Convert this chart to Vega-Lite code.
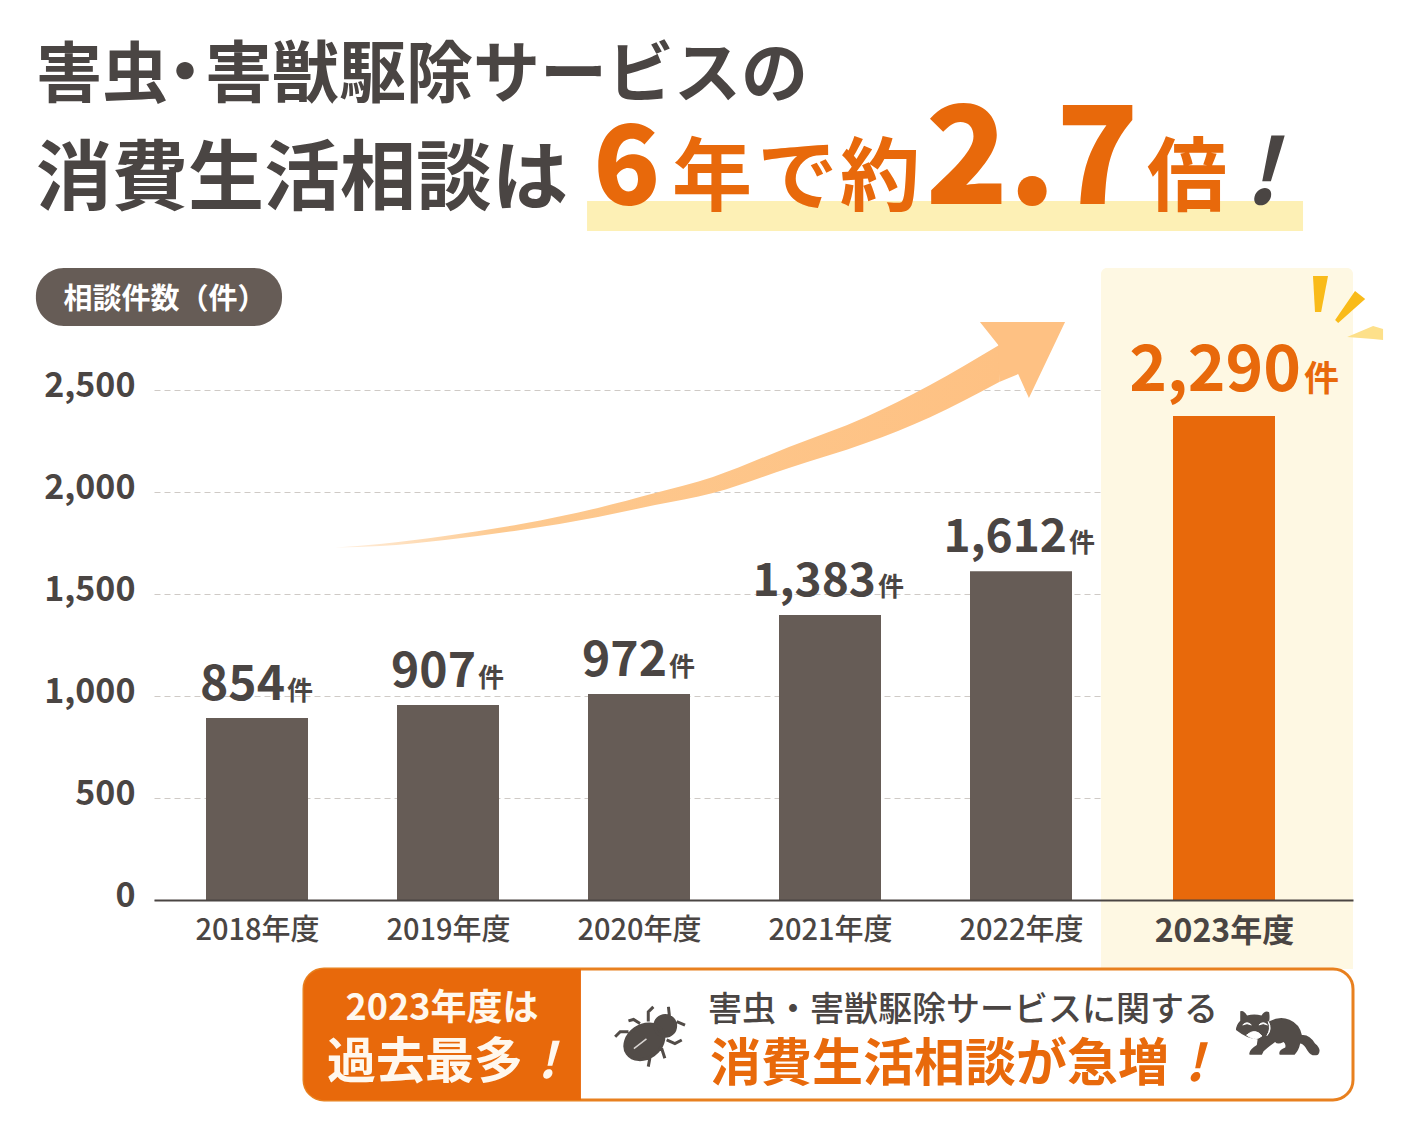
{
  "$schema": "https://vega.github.io/schema/vega-lite/v6.json",
  "width": 1402,
  "height": 1122,
  "autosize": "none",
  "padding": 0,
  "background": "white",
  "config": {"view": {"stroke": null}, "font": "Noto Sans CJK JP"},
  "data": {"values": [
    {"year": 2018, "count": 854, "bar_height": 892},
    {"year": 2019, "count": 907, "bar_height": 956},
    {"year": 2020, "count": 972, "bar_height": 1010},
    {"year": 2021, "count": 1383, "bar_height": 1397},
    {"year": 2022, "count": 1612, "bar_height": 1612},
    {"year": 2023, "count": 2290, "bar_height": 2372}
  ]},
  "layer": [
    {
      "data": {"values": [{}]},
      "mark": {"type": "rect", "color": "#fef8e3", "cornerRadiusTopRight": 6, "cornerRadiusTopLeft": 6},
      "encoding": {
        "x": {
          "datum": 2022.394,
          "type": "quantitative",
          "title": null,
          "scale": {"domain": [2017.461, 2018, 2022, 2023, 2023.635], "range": [154, 257, 1021, 1224, 1353], "nice": false, "zero": false, "padding": 0},
          "axis": {
            "offset": -222,
            "zindex": 1,
            "values": [2018, 2019, 2020, 2021, 2022, 2023],
            "labelExpr": "datum.value + '年度'",
            "labelFontSize": {"expr": "datum.value == 2023 ? 32 : 29"},
            "labelFontWeight": {"expr": "datum.value == 2023 ? 700 : 500"},
            "labelColor": "#4a4543",
            "labelPadding": 16,
            "labelOverlap": false,
            "labelFlush": false,
            "labelBound": false,
            "ticks": false,
            "grid": false,
            "domainColor": "#4a4543",
            "domainWidth": 2
          }
        },
        "x2": {"datum": 2023.635},
        "y": {
          "datum": 3098,
          "type": "quantitative",
          "title": null,
          "scale": {"domain": [0, 2500], "range": [900, 390], "nice": false},
          "axis": {
            "offset": -154,
            "values": [0, 500, 1000, 1500, 2000, 2500],
            "labelExpr": "format(datum.value, ',')",
            "labelFontSize": 34,
            "labelFontWeight": 700,
            "labelColor": "#4a4543",
            "labelPadding": 19,
            "labelOffset": -4,
            "ticks": false,
            "domain": false,
            "grid": true,
            "gridColor": "#cfcac6",
            "gridDash": [6, 4],
            "gridWidth": 1
          }
        },
        "y2": {"datum": -338}
      }
    },
    {
      "mark": {"type": "bar", "orient": "vertical", "width": 102},
      "encoding": {
        "x": {"field": "year", "type": "quantitative", "title": null},
        "y": {"field": "bar_height", "type": "quantitative", "title": null},
        "color": {"condition": {"test": "datum.year == 2023", "value": "#e8690b"}, "value": "#665c56"}
      }
    },
    {
      "data": {"values": [
        {"x": 2018.408, "top": 1728, "bottom": 1728},
        {"x": 2018.644, "top": 1745, "bottom": 1735},
        {"x": 2018.984, "top": 1784, "bottom": 1765},
        {"x": 2019.382, "top": 1843, "bottom": 1814},
        {"x": 2019.785, "top": 1922, "bottom": 1878},
        {"x": 2020.084, "top": 1995, "bottom": 1936},
        {"x": 2020.387, "top": 2074, "bottom": 1995},
        {"x": 2020.785, "top": 2221, "bottom": 2118},
        {"x": 2021.188, "top": 2368, "bottom": 2240},
        {"x": 2021.524, "top": 2525, "bottom": 2367},
        {"x": 2021.886, "top": 2721, "bottom": 2539}
      ]},
      "mark": {"type": "area", "interpolate": "monotone", "color": {"gradient": "linear", "x1": 0, "x2": 1, "y1": 0, "y2": 0, "stops": [{"offset": 0, "color": "#fff0e0"}, {"offset": 0.25, "color": "#fdc98f"}, {"offset": 1, "color": "#fec183"}]}},
      "encoding": {"x": {"field": "x", "type": "quantitative", "title": null}, "y": {"field": "top", "type": "quantitative", "title": null}, "y2": {"field": "bottom", "title": null}}
    },
    {
      "data": {"values": [
        {"x": 2021.785, "top": 2833, "bottom": 2833},
        {"x": 2021.881, "top": 2833, "bottom": 2721},
        {"x": 2021.886, "top": 2833, "bottom": 2539},
        {"x": 2021.985, "top": 2833, "bottom": 2578},
        {"x": 2022.039, "top": 2833, "bottom": 2461},
        {"x": 2022.217, "top": 2833, "bottom": 2833}
      ]},
      "mark": {"type": "area", "color": "#fec183"},
      "encoding": {"x": {"field": "x", "type": "quantitative", "title": null}, "y": {"field": "top", "type": "quantitative", "title": null}, "y2": {"field": "bottom", "title": null}}
    },
    {
      "data": {"values": [
        {"x": 2023.438, "top": 3059, "bottom": 3059},
        {"x": 2023.448, "top": 3059, "bottom": 2882},
        {"x": 2023.478, "top": 3059, "bottom": 2882},
        {"x": 2023.512, "top": 3059, "bottom": 3059}
      ]},
      "mark": {"type": "area", "color": "#f9bb1a"},
      "encoding": {"x": {"field": "x", "type": "quantitative", "title": null}, "y": {"field": "top", "type": "quantitative", "title": null}, "y2": {"field": "bottom", "title": null}}
    },
    {
      "data": {"values": [
        {"x": 2023.547, "top": 2843, "bottom": 2843},
        {"x": 2023.562, "top": 2865, "bottom": 2828},
        {"x": 2023.645, "top": 2985, "bottom": 2902},
        {"x": 2023.695, "top": 2946, "bottom": 2946}
      ]},
      "mark": {"type": "area", "color": "#f9bb1a"},
      "encoding": {"x": {"field": "x", "type": "quantitative", "title": null}, "y": {"field": "top", "type": "quantitative", "title": null}, "y2": {"field": "bottom", "title": null}}
    },
    {
      "data": {"values": [
        {"x": 2023.606, "top": 2760, "bottom": 2760},
        {"x": 2023.734, "top": 2814, "bottom": 2750},
        {"x": 2023.783, "top": 2799, "bottom": 2745}
      ]},
      "mark": {"type": "area", "color": "#fde08a"},
      "encoding": {"x": {"field": "x", "type": "quantitative", "title": null}, "y": {"field": "top", "type": "quantitative", "title": null}, "y2": {"field": "bottom", "title": null}}
    },
    {
      "transform": [{"filter": "datum.count < 1000"}],
      "mark": {"type": "text", "align": "right", "baseline": "alphabetic", "dx": 28, "dy": -18, "fontSize": 48, "fontWeight": 700, "color": "#4a4543"},
      "encoding": {"x": {"field": "year", "type": "quantitative", "title": null}, "y": {"field": "bar_height", "type": "quantitative", "title": null}, "text": {"field": "count", "format": ","}}
    },
    {
      "transform": [{"filter": "datum.count < 1000"}],
      "mark": {"type": "text", "align": "left", "baseline": "alphabetic", "dx": 30, "dy": -18, "fontSize": 26, "fontWeight": 700, "color": "#4a4543", "text": "件"},
      "encoding": {"x": {"field": "year", "type": "quantitative", "title": null}, "y": {"field": "bar_height", "type": "quantitative", "title": null}}
    },
    {
      "transform": [{"filter": "datum.count >= 1000 && datum.count < 2000"}],
      "mark": {"type": "text", "align": "right", "baseline": "alphabetic", "dx": 46, "dy": -19, "fontSize": 46, "fontWeight": 700, "color": "#4a4543"},
      "encoding": {"x": {"field": "year", "type": "quantitative", "title": null}, "y": {"field": "bar_height", "type": "quantitative", "title": null}, "text": {"field": "count", "format": ","}}
    },
    {
      "transform": [{"filter": "datum.count >= 1000 && datum.count < 2000"}],
      "mark": {"type": "text", "align": "left", "baseline": "alphabetic", "dx": 48, "dy": -19, "fontSize": 26, "fontWeight": 700, "color": "#4a4543", "text": "件"},
      "encoding": {"x": {"field": "year", "type": "quantitative", "title": null}, "y": {"field": "bar_height", "type": "quantitative", "title": null}}
    },
    {
      "transform": [{"filter": "datum.count >= 2000"}],
      "mark": {"type": "text", "align": "right", "baseline": "alphabetic", "dx": 77, "dy": -25, "fontSize": 64, "fontWeight": 700, "color": "#e8690b"},
      "encoding": {"x": {"field": "year", "type": "quantitative", "title": null}, "y": {"field": "bar_height", "type": "quantitative", "title": null}, "text": {"field": "count", "format": ","}}
    },
    {
      "transform": [{"filter": "datum.count >= 2000"}],
      "mark": {"type": "text", "align": "left", "baseline": "alphabetic", "dx": 80, "dy": -25, "fontSize": 35, "fontWeight": 700, "color": "#e8690b", "text": "件"},
      "encoding": {"x": {"field": "year", "type": "quantitative", "title": null}, "y": {"field": "bar_height", "type": "quantitative", "title": null}}
    },
    {
      "data": {"values": [{}]},
      "mark": {"type": "rect", "color": "#fdf0b5"},
      "encoding": {"x": {"datum": 2019.728, "type": "quantitative"}, "x2": {"datum": 2023.389}, "y": {"datum": 3426, "type": "quantitative"}, "y2": {"datum": 3279}}
    },
    {
      "data": {"values": [{}]},
      "mark": {"type": "rect", "color": "#665c56", "cornerRadius": 28},
      "encoding": {"x": {"datum": 2016.843, "type": "quantitative"}, "x2": {"datum": 2018.131}, "y": {"datum": 3098, "type": "quantitative"}, "y2": {"datum": 2814}}
    },
    {
      "data": {"values": [{"text": "相談件数（件）"}]},
      "mark": {"type": "text", "align": "center", "baseline": "alphabetic", "fontSize": 29, "fontWeight": 700, "color": "white"},
      "encoding": {"x": {"datum": 2017.518, "type": "quantitative"}, "y": {"datum": 2897, "type": "quantitative"}, "text": {"field": "text"}}
    },
    {
      "data": {"values": [{"text": "害虫"}]},
      "mark": {"type": "text", "align": "left", "baseline": "alphabetic", "fontSize": 66, "fontWeight": 700, "color": "#4a4543"},
      "encoding": {"x": {"datum": 2016.843, "type": "quantitative"}, "y": {"datum": 3936, "type": "quantitative"}, "text": {"field": "text"}}
    },
    {
      "data": {"values": [{"text": "・"}]},
      "mark": {"type": "text", "align": "center", "baseline": "alphabetic", "fontSize": 62, "fontWeight": 900, "color": "#4a4543"},
      "encoding": {"x": {"datum": 2017.623, "type": "quantitative"}, "y": {"datum": 3946, "type": "quantitative"}, "text": {"field": "text"}}
    },
    {
      "data": {"values": [{"text": "害獣駆除サービスの"}]},
      "mark": {"type": "text", "align": "left", "baseline": "alphabetic", "fontSize": 67, "fontWeight": 700, "color": "#4a4543"},
      "encoding": {"x": {"datum": 2017.728, "type": "quantitative"}, "y": {"datum": 3936, "type": "quantitative"}, "text": {"field": "text"}}
    },
    {
      "data": {"values": [{"text": "消費生活相談は"}]},
      "mark": {"type": "text", "align": "left", "baseline": "alphabetic", "fontSize": 76, "fontWeight": 700, "color": "#4a4543"},
      "encoding": {"x": {"datum": 2016.843, "type": "quantitative"}, "y": {"datum": 3412, "type": "quantitative"}, "text": {"field": "text"}}
    },
    {
      "data": {"values": [{"text": "6"}]},
      "mark": {"type": "text", "align": "left", "baseline": "alphabetic", "fontSize": 110, "fontWeight": 900, "color": "#e8690b"},
      "encoding": {"x": {"datum": 2019.76, "type": "quantitative"}, "y": {"datum": 3412, "type": "quantitative"}, "text": {"field": "text"}}
    },
    {
      "data": {"values": [{"text": "年"}]},
      "mark": {"type": "text", "align": "left", "baseline": "alphabetic", "fontSize": 80, "fontWeight": 700, "color": "#e8690b"},
      "encoding": {"x": {"datum": 2020.173, "type": "quantitative"}, "y": {"datum": 3412, "type": "quantitative"}, "text": {"field": "text"}}
    },
    {
      "data": {"values": [{"text": "で"}]},
      "mark": {"type": "text", "align": "left", "baseline": "alphabetic", "fontSize": 80, "fontWeight": 700, "color": "#e8690b"},
      "encoding": {"x": {"datum": 2020.62, "type": "quantitative"}, "y": {"datum": 3412, "type": "quantitative"}, "text": {"field": "text"}}
    },
    {
      "data": {"values": [{"text": "約"}]},
      "mark": {"type": "text", "align": "left", "baseline": "alphabetic", "fontSize": 80, "fontWeight": 700, "color": "#e8690b"},
      "encoding": {"x": {"datum": 2021.052, "type": "quantitative"}, "y": {"datum": 3412, "type": "quantitative"}, "text": {"field": "text"}}
    },
    {
      "data": {"values": [{"text": "2.7"}]},
      "mark": {"type": "text", "align": "left", "baseline": "alphabetic", "fontSize": 136, "fontWeight": 900, "color": "#e8690b"},
      "encoding": {"x": {"datum": 2021.5, "type": "quantitative"}, "y": {"datum": 3412, "type": "quantitative"}, "text": {"field": "text"}}
    },
    {
      "data": {"values": [{"text": "倍"}]},
      "mark": {"type": "text", "align": "left", "baseline": "alphabetic", "fontSize": 80, "fontWeight": 700, "color": "#e8690b"},
      "encoding": {"x": {"datum": 2022.621, "type": "quantitative"}, "y": {"datum": 3412, "type": "quantitative"}, "text": {"field": "text"}}
    },
    {
      "data": {"values": [{"text": "!"}]},
      "mark": {"type": "text", "align": "left", "baseline": "alphabetic", "fontSize": 90, "fontWeight": 700, "fontStyle": "italic", "color": "#4a4543"},
      "encoding": {"x": {"datum": 2023.1, "type": "quantitative"}, "y": {"datum": 3412, "type": "quantitative"}, "text": {"field": "text"}}
    },
    {
      "data": {"values": [{}]},
      "mark": {"type": "rect", "color": "white", "stroke": "#e8801f", "strokeWidth": 3, "cornerRadius": 20},
      "encoding": {"x": {"datum": 2018.246, "type": "quantitative"}, "x2": {"datum": 2023.635}, "y": {"datum": -338, "type": "quantitative"}, "y2": {"datum": -980}}
    },
    {
      "data": {"values": [{}]},
      "mark": {"type": "rect", "color": "#e8690b", "cornerRadiusTopLeft": 20, "cornerRadiusBottomLeft": 20},
      "encoding": {"x": {"datum": 2018.246, "type": "quantitative"}, "x2": {"datum": 2019.696}, "y": {"datum": -338, "type": "quantitative"}, "y2": {"datum": -980}}
    },
    {
      "data": {"values": [{"text": "2023年度は"}]},
      "mark": {"type": "text", "align": "center", "baseline": "alphabetic", "fontSize": 36, "fontWeight": 700, "color": "#fff8ee"},
      "encoding": {"x": {"datum": 2018.969, "type": "quantitative"}, "y": {"datum": -588, "type": "quantitative"}, "text": {"field": "text"}}
    },
    {
      "data": {"values": [{"text": "過去最多"}]},
      "mark": {"type": "text", "align": "left", "baseline": "alphabetic", "fontSize": 49, "fontWeight": 700, "color": "#fff8ee"},
      "encoding": {"x": {"datum": 2018.366, "type": "quantitative"}, "y": {"datum": -873, "type": "quantitative"}, "text": {"field": "text"}}
    },
    {
      "data": {"values": [{"text": "!"}]},
      "mark": {"type": "text", "align": "left", "baseline": "alphabetic", "fontSize": 49, "fontWeight": 700, "fontStyle": "italic", "color": "#fff8ee"},
      "encoding": {"x": {"datum": 2019.47, "type": "quantitative"}, "y": {"datum": -873, "type": "quantitative"}, "text": {"field": "text"}}
    },
    {
      "data": {"values": [{"text": "害虫・害獣駆除サービスに関する"}]},
      "mark": {"type": "text", "align": "left", "baseline": "alphabetic", "fontSize": 34, "fontWeight": 500, "color": "#4a4543"},
      "encoding": {"x": {"datum": 2020.361, "type": "quantitative"}, "y": {"datum": -593, "type": "quantitative"}, "text": {"field": "text"}}
    },
    {
      "data": {"values": [{"text": "消費生活相談が急増"}]},
      "mark": {"type": "text", "align": "left", "baseline": "alphabetic", "fontSize": 51, "fontWeight": 700, "color": "#e8690b"},
      "encoding": {"x": {"datum": 2020.372, "type": "quantitative"}, "y": {"datum": -887, "type": "quantitative"}, "text": {"field": "text"}}
    },
    {
      "data": {"values": [{"text": "!"}]},
      "mark": {"type": "text", "align": "left", "baseline": "alphabetic", "fontSize": 51, "fontWeight": 700, "fontStyle": "italic", "color": "#e8690b"},
      "encoding": {"x": {"datum": 2022.808, "type": "quantitative"}, "y": {"datum": -887, "type": "quantitative"}, "text": {"field": "text"}}
    },
    {
      "data": {"values": [{}]},
      "mark": {
        "type": "point",
        "filled": true,
        "size": 5184,
        "color": "#524c48",
        "stroke": "#524c48",
        "strokeWidth": 3,
        "opacity": 1,
        "shape": "M-.635,.463A.58,.45,-35,1,1,.315,-.203A.58,.45,-35,1,1,-.635,.463ZM.13,-.31A.29,.29,0,1,1,.71,-.31A.29,.29,0,1,1,.13,-.31ZM-.05,-.43L-.05,-.7L.09,-.84L-.05,-.7ZM.54,-.56L.51,-.84ZM.74,-.43L.97,-.33ZM.46,.08L.69,.18L.88,.08L.69,.18ZM.32,.31L.41,.59ZM0,.55L-.05,.82ZM-.6,-.15L-.83,-.15L-.97,-.01L-.83,-.15ZM-.28,-.38L-.46,-.49L-.6,-.45L-.46,-.49Z"
      },
      "encoding": {"x": {"datum": 2020.058, "type": "quantitative"}, "y": {"datum": -672, "type": "quantitative"}}
    },
    {
      "data": {"values": [{}]},
      "mark": {"type": "point", "filled": false, "size": 5184, "stroke": "#d9d5d2", "strokeWidth": 1.5, "opacity": 1, "shape": "M-.45,.32L-.1,.05"},
      "encoding": {"x": {"datum": 2020.058, "type": "quantitative"}, "y": {"datum": -672, "type": "quantitative"}}
    },
    {
      "data": {"values": [{}]},
      "mark": {
        "type": "point",
        "filled": true,
        "size": 7225,
        "color": "#524c48",
        "opacity": 1,
        "shape": "M-.88,-.52Q-.8,-.56,-.72,-.42Q-.55,-.47,-.38,-.42Q-.3,-.55,-.2,-.5Q-.18,-.38,-.2,-.28Q.05,-.42,.28,-.32Q.52,-.22,.57,.04Q.75,.02,.88,.24Q1.05,.38,.95,.5Q.8,.56,.7,.4Q.62,.25,.53,.24Q.5,.4,.4,.5L.05,.5Q0,.4,.18,.33Q.2,.25,.14,.2Q0,.28,-.06,.2Q-.2,.3,-.33,.42L-.37,.5L-.66,.5Q-.7,.4,-.49,.27L-.47,.14Q-.7,.14,-.98,-.08Q-.98,-.2,-.88,-.3Z"
      },
      "encoding": {"x": {"datum": 2023.264, "type": "quantitative"}, "y": {"datum": -654, "type": "quantitative"}}
    },
    {
      "data": {"values": [{}]},
      "mark": {"type": "point", "filled": true, "size": 7225, "color": "white", "stroke": "white", "strokeWidth": 1, "opacity": 1, "shape": "M-.73,.04Q-.53,-.14,-.37,.06Q-.53,.2,-.73,.04ZM-.82,-.2Q-.72,-.3,-.62,-.2Q-.72,-.26,-.82,-.2ZM-.44,-.2Q-.34,-.3,-.24,-.2Q-.34,-.26,-.44,-.2ZM-.22,-.28Q-.12,-.1,-.25,.05Q-.15,-.1,-.22,-.28Z"},
      "encoding": {"x": {"datum": 2023.264, "type": "quantitative"}, "y": {"datum": -654, "type": "quantitative"}}
    }
  ]
}
